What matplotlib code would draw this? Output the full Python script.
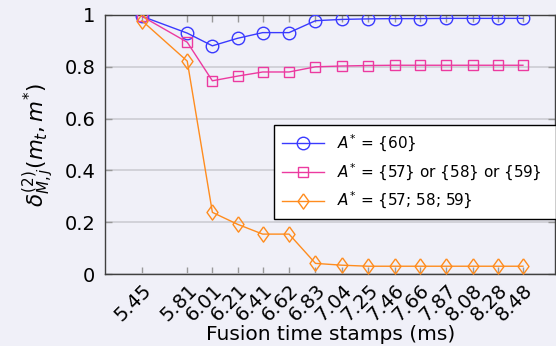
import matplotlib
matplotlib.use("Agg")
import matplotlib.pyplot as plt

times = [5.45, 5.81, 6.01, 6.21, 6.41, 6.62, 6.83, 7.04, 7.25, 7.46, 7.66, 7.87, 8.08, 8.28, 8.48]
tick_labels = ["5.45", "5.81", "6.01", "6.21", "6.41", "6.62", "6.83", "7.04", "7.25", "7.46", "7.66", "7.87", "8.08", "8.28", "8.48"]

blue_vals = [0.995, 0.93, 0.881, 0.91, 0.932, 0.932, 0.978, 0.983, 0.985, 0.986, 0.986, 0.987, 0.987, 0.987, 0.987]
pink_vals = [0.995, 0.895, 0.746, 0.764, 0.78, 0.78, 0.80, 0.803, 0.805, 0.806, 0.806, 0.806, 0.806, 0.806, 0.806]
orange_vals = [0.978, 0.822, 0.238, 0.192, 0.154, 0.154, 0.041, 0.034, 0.030, 0.030, 0.030, 0.030, 0.030, 0.030, 0.030]

labels = [r"$A^{*}$ = {60}", r"$A^{*}$ = {57} or {58} or {59}", r"$A^{*}$ = {57; 58; 59}"]

bg = "#f0f0f8"
plt.rcParams['mathtext.fontset'] = 'dejavusans'
plt.rcParams['font.family'] = ['DejaVu Sans']

fig = plt.figure(figsize=(5.56, 3.46), dpi=100, facecolor=bg)
ax = fig.add_axes([105 / 556, 72 / 346, 450.5 / 556, 259 / 346])
ax.set_facecolor(bg)

diamond = [(0, 1), (0.72, 0), (0, -1), (-0.72, 0), (0, 1)]

ax.plot(times, blue_vals, color="#3a3aff", lw=1.0, marker="o", ms=9, mfc="none", mec="#3a3aff", mew=1.0, label=labels[0], zorder=3)
ax.plot(times, pink_vals, color="#ec3aa0", lw=1.0, marker="s", ms=7.5, mfc="none", mec="#ec3aa0", mew=1.0, label=labels[1], zorder=3)
ax.plot(times, orange_vals, color="#ff8c1e", lw=1.0, marker=diamond, ms=11, mfc="none", mec="#ff8c1e", mew=1.0, label=labels[2], zorder=3)

ax.set_xlim(5.156, 8.739)
ax.set_ylim(0, 1)
ax.set_xticks(times)
ax.set_xticklabels(tick_labels, rotation=45, ha="right", va="top", rotation_mode="anchor", fontsize=14)
ax.set_yticks([0, 0.2, 0.4, 0.6, 0.8, 1])
ax.set_yticklabels(["0", "0.2", "0.4", "0.6", "0.8", "1"], fontsize=14)
ax.tick_params(axis="both", direction="in", length=5, width=1, color="#999999", top=True, right=True, pad=7)
ax.tick_params(axis="x", pad=5)
ax.yaxis.grid(True, color="#cfcfd6", lw=1.3, zorder=0)
ax.set_axisbelow(True)
for s in ax.spines.values():
    s.set_color("#404040")
    s.set_linewidth(1.0)

ax.set_xlabel("Fusion time stamps (ms)", fontsize=14.5, labelpad=0)
ax.set_ylabel(r"$\delta^{(2)}_{M,j}(m_t, m^{*})$", fontsize=15.5, labelpad=6)

leg = ax.legend(loc="upper left", bbox_to_anchor=(0.375, 0.216, 0.625, 0.359), mode="expand", borderaxespad=0,
                fontsize=11, frameon=True, fancybox=False,
                edgecolor="black", facecolor="white", framealpha=1, handlelength=2.8, borderpad=0.5, labelspacing=0.5)
leg.get_frame().set_linewidth(1.0)

fig.savefig("out.png", dpi=100, facecolor=bg)
